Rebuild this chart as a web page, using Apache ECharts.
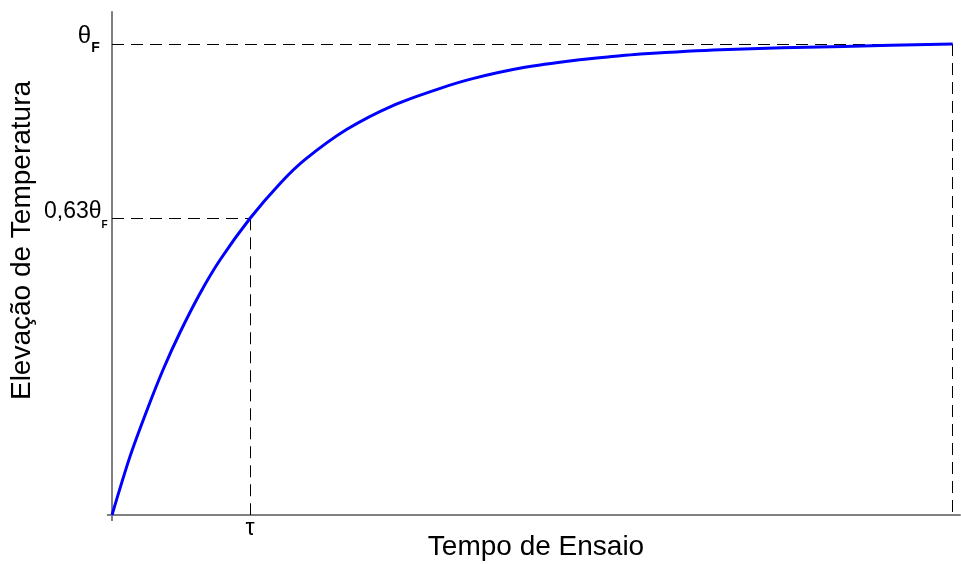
<!DOCTYPE html>
<html>
<head>
<meta charset="utf-8">
<script src="https://cdn.jsdelivr.net/npm/echarts@6/dist/echarts.min.js"></script>
<style>
html,body{margin:0;padding:0;background:#fff;}
#chart{width:961px;height:564px;}
</style>
</head>
<body>
<div id="chart"></div>
<script>
// Time in units of tau, temperature rise as fraction of final value
const timeValues = [0, 0.13, 0.251, 0.372, 0.493, 0.638, 0.783, 1.0, 1.217, 1.399, 1.701, 2.038, 2.377, 2.618, 2.98, 3.343, 3.681, 3.826, 4.406, 5.297, 6.087];
const riseValues = [0, 0.124, 0.221, 0.31, 0.388, 0.471, 0.542, 0.63, 0.704, 0.755, 0.819, 0.870, 0.906, 0.927, 0.950, 0.965, 0.975, 0.979, 0.988, 0.995, 1.0];
const tauValue = 1;
const finalTime = 6.087;
const finalRise = 1;
const tauRise = 0.63;
const xTickLabels = ['τ'];
const xAxisName = 'Tempo de Ensaio';
const yAxisName = 'Elevação de Temperatura';

const chart = echarts.init(document.getElementById('chart'));
const seriesData = timeValues.map((t, i) => [t, riseValues[i]]);
const dash = [12, 7];
const font = 'Liberation Sans, Arial, sans-serif';

chart.setOption({
  animation: false,
  backgroundColor: '#ffffff',
  grid: { left: 112, right: 1, top: 12, bottom: 49, containLabel: false, outerBoundsMode: 'none' },
  xAxis: {
    type: 'value', min: 0, max: 6.14,
    name: xAxisName, nameLocation: 'middle', nameGap: 18, nameMoveOverlap: false,
    nameTextStyle: { fontFamily: font, fontSize: 28, color: '#000' },
    axisLine: { show: true, lineStyle: { color: '#808080', width: 2 } },
    axisTick: { show: true, customValues: [0], length: 6, lineStyle: { color: '#808080', width: 2 } },
    axisLabel: {
      show: true, customValues: [tauValue], margin: 2,
      formatter: () => xTickLabels[0],
      fontFamily: font, fontSize: 23, color: '#000'
    },
    splitLine: { show: false }
  },
  yAxis: {
    type: 'value', min: 0, max: 1.068,
    name: yAxisName, nameLocation: 'middle', nameGap: 76, nameRotate: 90, nameMoveOverlap: false,
    nameTextStyle: { fontFamily: font, fontSize: 28, color: '#000', padding: [0, 0, 0, 46] },
    axisLine: { show: true, lineStyle: { color: '#808080', width: 2 } },
    axisTick: { show: true, customValues: [0], length: 5, lineStyle: { color: '#808080', width: 2 } },
    axisLabel: {
      show: true, customValues: [tauRise, finalRise], margin: 4,
      formatter: (v) => v >= 0.99 ? '{t|θ}{f|F}{z| }' : '{n|0,63θ}{g|F}{y| }',
      rich: {
        t: { fontFamily: font, fontSize: 24, lineHeight: 24, color: '#000', verticalAlign: 'top' },
        f: { fontFamily: font, fontSize: 14, fontWeight: 'bold', lineHeight: 16, color: '#000', verticalAlign: 'bottom', padding: [0, 8, 9, 0] },
        z: { fontSize: 1, lineHeight: 40 },
        n: { fontFamily: font, fontSize: 23, lineHeight: 23, color: '#000', verticalAlign: 'top' },
        g: { fontFamily: font, fontSize: 10, fontWeight: 'bold', lineHeight: 12, color: '#000', verticalAlign: 'bottom', padding: [0, 0, 6, 0] },
        y: { fontSize: 1, lineHeight: 36 }
      }
    },
    splitLine: { show: false }
  },
  series: [{
    type: 'line',
    data: seriesData,
    smooth: 0.3,
    showSymbol: false,
    lineStyle: { color: '#0000ff', width: 3 },
    z: 3,
    markLine: {
      silent: true,
      symbol: ['none', 'none'],
      label: { show: false },
      lineStyle: { color: '#000', width: 1, type: dash },
      z: 2,
      data: [
        [{ coord: [0, finalRise] }, { coord: [finalTime, finalRise] }],
        [{ coord: [finalTime, finalRise] }, { coord: [finalTime, 0] }],
        [{ coord: [0, tauRise] }, { coord: [tauValue, tauRise] }],
        [{ coord: [tauValue, tauRise] }, { coord: [tauValue, 0] }]
      ]
    }
  }]
});
</script>
</body>
</html>
